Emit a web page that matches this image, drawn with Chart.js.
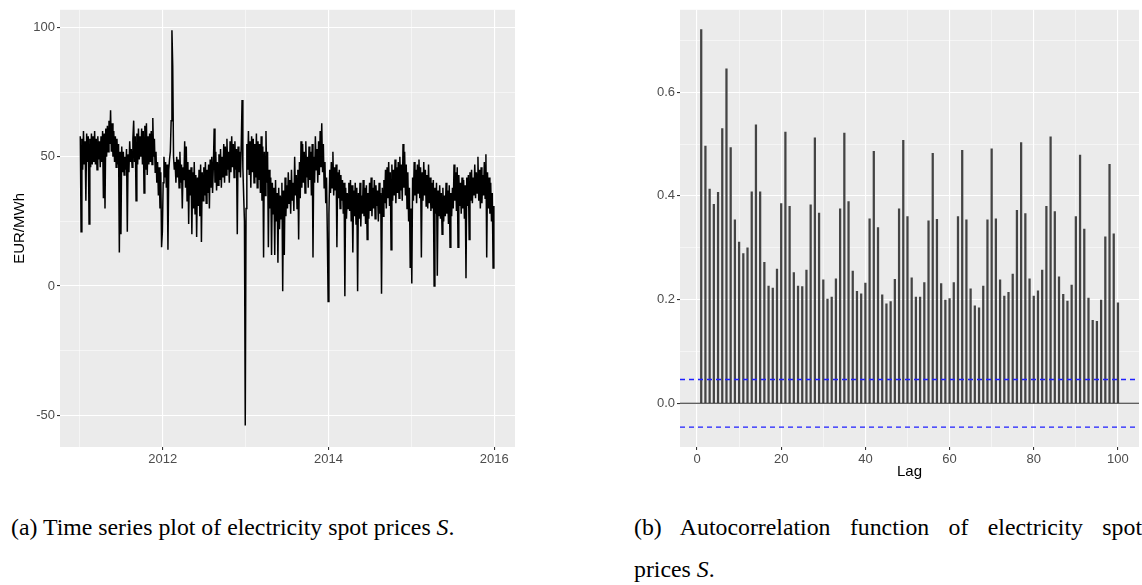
<!DOCTYPE html>
<html>
<head>
<meta charset="utf-8">
<script src="https://cdn.jsdelivr.net/npm/chart.js@4.4.0/dist/chart.umd.min.js"></script>
<style>
  html, body { margin: 0; padding: 0; background: #fff; width: 1142px; height: 585px; overflow: hidden; }
  body { position: relative; }
  .box { position: absolute; }
  #leftBox { left: 0; top: 0; }
  #rightBox { left: 620px; top: 0; }
  .cap { position: absolute; font-family: "Liberation Serif", serif; font-size: 23.8px; line-height: 24px; white-space: nowrap; color: #000; }
  .just { width: 508px; text-align: justify; text-align-last: justify; white-space: normal; }
</style>
</head>
<body>
<div class="box" id="leftBox"><canvas id="priceChart" width="525" height="475"></canvas></div>
<div class="box" id="rightBox"><canvas id="acfChart" width="522" height="490"></canvas></div>
<div class="cap" style="left:11px; top:515px;">(a) Time series plot of electricity spot prices <i>S</i>.</div>
<div class="cap just" style="left:634px; top:515px;">(b) Autocorrelation function of electricity spot</div>
<div class="cap" style="left:634px; top:557px;">prices <i>S</i>.</div>

<script>
// daily spot prices at roughly two values per week (EUR/MWh)
const prices2011 = [58, 21, 57, 45, 60, 47, 56, 33, 59,
  48, 58, 24, 57, 46, 59, 47, 58,
  48, 60, 47, 57, 45, 58, 49, 56, 46,
  58, 48, 60, 34, 59, 30, 61, 50, 62,
  52, 64, 55, 68, 52, 63, 50, 60, 48,
  58, 46, 57, 47, 55, 13, 52, 20,
  54, 44, 52, 43, 50, 45, 53, 21, 51,
  44, 56, 48, 53, 46, 57, 64, 48, 58,
  33, 59, 47, 61, 49, 58, 50, 61,
  47, 60, 36, 62, 45, 63, 43, 58, 47,
  59, 48, 60, 47, 65, 50, 57, 44,
  52, 40, 48, 35, 46, 30, 44, 15, 21];
const prices2012 = [40, 50, 42, 48, 38, 47, 14, 45, 49,
  52, 64, 99, 85, 50, 45, 48, 40,
  50, 42, 49, 38, 52, 40, 47, 30, 46,
  41, 56, 38, 54, 33, 48, 24, 45, 35,
  46, 20, 44, 30, 48, 28, 43, 19, 42,
  31, 45, 27, 47, 17, 44, 33, 46,
  35, 48, 32, 45, 36, 47, 30, 49, 38,
  50, 36, 47, 61, 40, 52, 37, 48, 39,
  51, 41, 53, 38, 50, 42, 55, 40,
  54, 43, 57, 45, 52, 40, 56, 44, 58,
  46, 55, 42, 56, 45, 53, 20, 54,
  44, 52, 42, 55, 72, 46, 35, 25, -54];
const prices2013 = [30, 55, 45, 60, 43, 56, 38, 58, 44,
  57, 40, 55, 42, 59, 38, 56, 41,
  55, 36, 58, 33, 54, 11, 52, 35, 60,
  40, 52, 15, 45, 30, 42, 12, 40, 28,
  38, 12, 41, 25, 36, 9, 38, 22, 35,
  26, 40, -2, 37, 12, 42, 27, 39,
  30, 44, 32, 41, 28, 45, 33, 40, 29,
  50, 35, 43, 30, 45, 18, 48, 34, 56,
  38, 55, 40, 52, 36, 56, 42, 50,
  38, 54, 41, 52, 35, 55, 11, 50, 40,
  58, 45, 53, 40, 56, 43, 60, 46,
  63, 44, 55, 38, 48, 32, 42, 20, -6];
const prices2014 = [28, 45, 36, 48, 38, 52, 35, 46, 37,
  47, 15, 44, 34, 45, 30, 43, 33,
  41, 28, 40, -4, 38, 26, 36, 30, 40,
  29, 41, 25, 39, 13, 37, 27, 40, 24,
  38, -2, 36, 26, 40, 23, 35, 28, 41,
  27, 38, 24, 39, 18, 36, 26, 40,
  29, 42, 27, 38, 30, 41, 26, 39, 31,
  37, 25, 40, 28, 36, -3, 38, 27, 41,
  32, 45, 30, 46, 34, 48, 31, 44,
  14, 47, 33, 45, 35, 49, 32, 46, 36,
  48, 34, 50, 37, 47, 33, 55, 38,
  52, 35, 47, 30, 44, 25, 38, 7, 30];
const prices2015 = [1, 42, 33, 48, 35, 45, 32, 47, 36,
  49, 34, 46, 11, 44, 33, 48, 35,
  45, 31, 43, 30, 47, 32, 42, 29, 40,
  30, 41, 0, 38, 28, 40, 4, 37, 27,
  39, 26, 36, 20, 38, 25, 35, 27, 40,
  28, 37, 24, 39, 15, 36, 27, 38,
  30, 47, 33, 44, 29, 46, 15, 43, 31,
  40, 28, 42, 30, 41, 26, 39, 3, 42,
  31, 43, 18, 44, 33, 45, 32, 42,
  35, 47, 34, 44, 36, 50, 33, 45, 30,
  46, 32, 43, 35, 48, 34, 51, 11,
  44, 30, 42, 28, 40, 25, 36, 7, 31];
const years = [2011, 2012, 2013, 2014, 2015];
const priceYears = [prices2011, prices2012, prices2013, prices2014, prices2015];

// autocorrelation, lags 1..100
const acfLags = Array.from({ length: 100 }, (_, i) => i + 1);
const acfValues = [0.721, 0.496, 0.413, 0.384, 0.407, 0.530, 0.645, 0.493, 0.354, 0.311,
  0.289, 0.300, 0.408, 0.537, 0.408, 0.272, 0.226, 0.222, 0.259, 0.385,
  0.523, 0.380, 0.252, 0.226, 0.225, 0.257, 0.383, 0.512, 0.367, 0.238,
  0.201, 0.205, 0.240, 0.375, 0.521, 0.389, 0.255, 0.216, 0.211, 0.232,
  0.356, 0.486, 0.339, 0.209, 0.192, 0.196, 0.239, 0.375, 0.507, 0.360,
  0.242, 0.205, 0.205, 0.233, 0.352, 0.482, 0.355, 0.231, 0.199, 0.202,
  0.233, 0.360, 0.488, 0.354, 0.221, 0.188, 0.184, 0.226, 0.354, 0.491,
  0.356, 0.238, 0.207, 0.214, 0.249, 0.372, 0.503, 0.366, 0.240, 0.207,
  0.217, 0.257, 0.380, 0.514, 0.370, 0.244, 0.210, 0.197, 0.228, 0.360,
  0.479, 0.336, 0.203, 0.160, 0.158, 0.199, 0.321, 0.461, 0.327, 0.194];
const ciBound = 0.046;

const priceTicks = [-50, 0, 50, 100];
const yearTicks = [2012, 2014, 2016];
const lagTicks = [0, 20, 40, 60, 80, 100];
const acfTicks = [0.0, 0.2, 0.4, 0.6];

// ggplot-ish grey panel
const panelBg = {
  id: "panelBg",
  beforeDraw(chart) {
    const { ctx, chartArea: a } = chart;
    ctx.save();
    ctx.fillStyle = "#EBEBEB";
    ctx.fillRect(a.left, a.top, a.right - a.left, a.bottom - a.top);
    ctx.restore();
  }
};

const tickFont = { family: "'Liberation Sans', Arial, sans-serif", size: 13 };
const titleFont = { family: "'Liberation Sans', Arial, sans-serif", size: 15 };

function isMajor(list, v) {
  return list.some(t => Math.abs(t - v) < 1e-6);
}

function axisStyle(majors, fmt) {
  return {
    grid: {
      color: "#FFFFFF",
      lineWidth: c => (c.tick && isMajor(majors, c.tick.value)) ? 1.1 : 0.5,
      tickColor: c => (c.tick && isMajor(majors, c.tick.value)) ? "#333333" : "rgba(0,0,0,0)",
      tickLength: 3,
      drawTicks: true,
      offset: false
    },
    border: { display: false },
    ticks: {
      color: "#4D4D4D",
      font: tickFont,
      padding: 2,
      autoSkip: false,
      maxRotation: 0,
      includeBounds: false,
      callback: v => isMajor(majors, v) ? fmt(v) : ""
    }
  };
}

Chart.defaults.animation = false;
Chart.defaults.devicePixelRatio = 1;

// series
const priceData = [];
years.forEach((yr, k) => {
  const vals = priceYears[k];
  vals.forEach((v, i) => priceData.push({ x: yr + (i + 0.5) / vals.length, y: v }));
});

const leftX = axisStyle(yearTicks, v => String(v));
leftX.type = "linear";
leftX.min = 2010.76;
leftX.max = 2016.25;
leftX.ticks.stepSize = 1;
leftX.afterFit = s => { s.height = 28; };

const leftY = axisStyle(priceTicks, v => String(v));
leftY.min = -62.3;
leftY.max = 106.9;
leftY.ticks.stepSize = 25;
leftY.title = { display: true, text: "EUR/MWh", color: "#000", font: titleFont, padding: { top: 11, bottom: 0 } };
leftY.afterFit = s => { s.width = 60; };

new Chart(document.getElementById("priceChart"), {
  type: "line",
  data: {
    datasets: [{
      data: priceData,
      borderColor: "#000",
      borderWidth: 1.5,
      pointRadius: 0,
      tension: 0
    }]
  },
  options: {
    responsive: false,
    layout: { padding: { top: 7, right: 10, left: 0, bottom: 0 } },
    plugins: { legend: { display: false }, tooltip: { enabled: false } },
    scales: { x: leftX, y: leftY }
  },
  plugins: [panelBg]
});

// acf
const lagMin = -4.04, lagMax = 105;
const rightX = axisStyle(lagTicks, v => String(v));
rightX.type = "linear";
rightX.min = lagMin;
rightX.max = lagMax;
rightX.offset = false;
rightX.ticks.stepSize = 10;
rightX.title = { display: true, text: "Lag", color: "#000", font: titleFont, padding: { top: 0, bottom: 9 } };
rightX.afterFit = s => { s.height = 43; };

const rightY = axisStyle(acfTicks, v => v.toFixed(1));
rightY.min = -0.0843;
rightY.max = 0.759;
rightY.ticks.stepSize = 0.1;
rightY.afterFit = s => { s.width = 60; };

const hline = y => [{ x: lagMin, y }, { x: lagMax, y }];
const blue = "#1F1FFF";

new Chart(document.getElementById("acfChart"), {
  type: "bar",
  data: {
    datasets: [
      {
        type: "line",
        label: "upper",
        data: hline(ciBound),
        borderColor: blue,
        backgroundColor: blue,
        borderWidth: 1.4,
        borderDash: [5, 4],
        pointRadius: 0,
        fill: false
      },
      {
        type: "line",
        label: "lower",
        data: hline(-ciBound),
        borderColor: blue,
        backgroundColor: blue,
        borderWidth: 1.4,
        borderDash: [5, 4],
        pointRadius: 0,
        fill: false
      },
      {
        type: "line",
        label: "zero",
        data: hline(0),
        borderColor: "#2B2B2B",
        backgroundColor: "#2B2B2B",
        borderWidth: 1.1,
        pointRadius: 0,
        fill: false
      },
      {
        type: "bar",
        label: "acf",
        data: acfLags.map((l, i) => ({ x: l, y: acfValues[i] })),
        backgroundColor: "#444444",
        barThickness: 1.6
      }
    ]
  },
  options: {
    responsive: false,
    layout: { padding: { top: 7, right: 3, left: 0, bottom: 0 } },
    plugins: { legend: { display: false }, tooltip: { enabled: false } },
    scales: { x: rightX, y: rightY }
  },
  plugins: [panelBg]
});
</script>
</body>
</html>
